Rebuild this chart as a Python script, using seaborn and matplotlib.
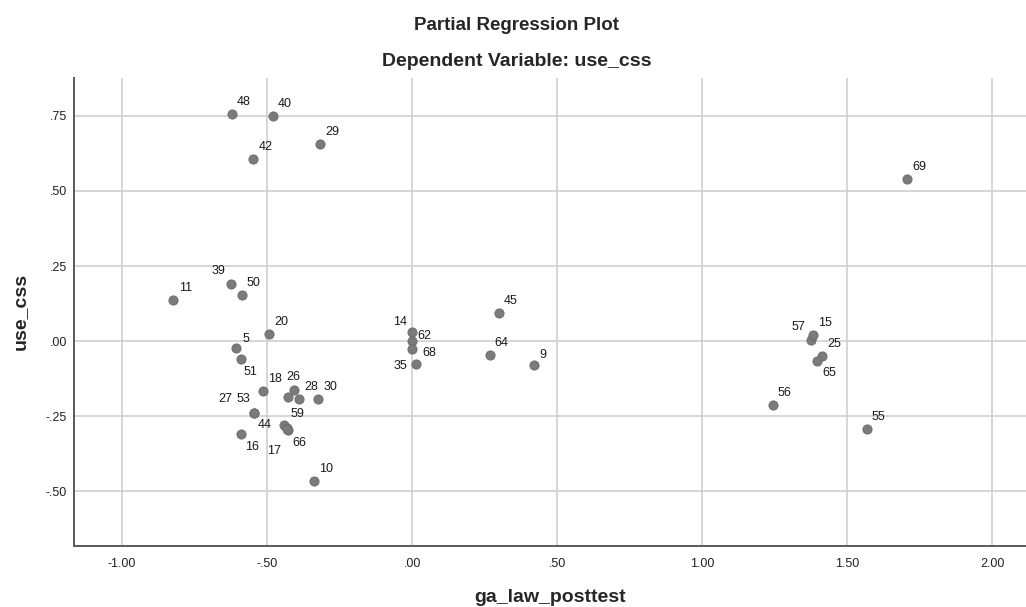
import matplotlib
matplotlib.use("Agg")
import matplotlib.pyplot as plt
import seaborn as sns
import pandas as pd

# case numbers shown next to the points ("" = no label drawn)
cases = ["48", "40", "42", "29", "11", "39", "50", "20", "5", "51",
         "18", "26", "", "28", "30", "27", "53", "59", "44", "66",
         "17", "16", "10", "45", "14", "62", "68", "35", "64", "9",
         "69", "57", "15", "25", "65", "56", "55"]

ga_law_posttest = [-0.622, -0.480, -0.547, -0.316, -0.823, -0.625, -0.587, -0.492, -0.607, -0.591,
                   -0.514, -0.409, -0.427, -0.390, -0.323, -0.546, -0.544, -0.441, -0.432, -0.429,
                   -0.430, -0.591, -0.338, 0.299, -0.001, -0.001, -0.001, 0.014, 0.268, 0.420,
                   1.708, 1.375, 1.382, 1.415, 1.396, 1.244, 1.568]

use_css = [0.756, 0.750, 0.607, 0.657, 0.137, 0.190, 0.155, 0.023, -0.021, -0.059,
           -0.165, -0.161, -0.186, -0.194, -0.193, -0.238, -0.239, -0.278, -0.290, -0.294,
           -0.292, -0.309, -0.465, 0.093, 0.032, 0.001, -0.027, -0.077, -0.046, -0.078,
           0.541, 0.004, 0.019, -0.049, -0.065, -0.214, -0.293]

x_ticks = [-1.0, -0.5, 0.0, 0.5, 1.0, 1.5, 2.0]
x_tick_labels = ["-1.00", "-.50", ".00", ".50", "1.00", "1.50", "2.00"]
y_ticks = [-0.5, -0.25, 0.0, 0.25, 0.5, 0.75]
y_tick_labels = ["-.50", "-.25", ".00", ".25", ".50", ".75"]

# where each case label sits relative to its point (pixels, right / up)
label_offsets = {
    "5": (10, 9), "51": (10, -13), "26": (0, 13), "27": (-28, 14), "53": (-11, 14),
    "59": (13, 11), "44": (-22, 3), "66": (12, -13), "17": (-13, -22), "16": (11, -13),
    "39": (-12, 13), "14": (-12, 10), "62": (13, 5), "68": (17, -4), "35": (-16, -2),
    "9": (9, 10), "57": (-12, 13), "65": (12, -12),
}

df = pd.DataFrame({"ga_law_posttest": ga_law_posttest, "use_css": use_css, "case": cases})

sns.set_style("white")
plt.rcParams["font.family"] = ["Liberation Sans", "DejaVu Sans"]

fig = plt.figure(figsize=(10.26, 6.07), dpi=100)
ax = fig.add_axes([74 / 1026, 1 - 545.5 / 607, 952 / 1026, (545.5 - 78) / 607])

sns.scatterplot(data=df, x="ga_law_posttest", y="use_css", ax=ax,
                color="#7b7b7b", edgecolor="#6a6a6a", linewidth=0.6, s=44, zorder=3)

for _, row in df.iterrows():
    if not row["case"]:
        continue
    dx, dy = label_offsets.get(row["case"], (12, 12))
    ax.annotate(row["case"], (row["ga_law_posttest"], row["use_css"]),
                xytext=(dx, dy), textcoords="offset pixels",
                ha="center", va="center", fontsize=9, color="#1a1a1a", zorder=4)

ax.set_xlim(-1.166, 2.117)
ax.set_ylim(-0.680, 0.876)
ax.set_xticks(x_ticks)
ax.set_xticklabels(x_tick_labels)
ax.set_yticks(y_ticks)
ax.set_yticklabels(y_tick_labels)
ax.tick_params(axis="both", length=0, labelsize=9, colors="#222222")
ax.tick_params(axis="x", pad=9)
ax.tick_params(axis="y", pad=5)
ax.grid(True, color="#cfcfcf", linewidth=1.2)
ax.set_axisbelow(True)

for side in ["top", "right"]:
    ax.spines[side].set_visible(False)
for side in ["left", "bottom"]:
    ax.spines[side].set_color("#5a5a5a")
    ax.spines[side].set_linewidth(1.4)

ax.set_xlabel("ga_law_posttest", fontsize=14, fontweight="bold", labelpad=14)
ax.set_ylabel("use_css", fontsize=14, fontweight="bold", labelpad=12)

fig.text(517 / 1026, 1 - 25 / 607, "Partial Regression Plot",
         ha="center", va="center", fontsize=13.5, fontweight="bold")
fig.text(517 / 1026, 1 - 61 / 607, "Dependent Variable: use_css",
         ha="center", va="center", fontsize=14, fontweight="bold")

fig.savefig("out.png", dpi=100)
plt.close(fig)
